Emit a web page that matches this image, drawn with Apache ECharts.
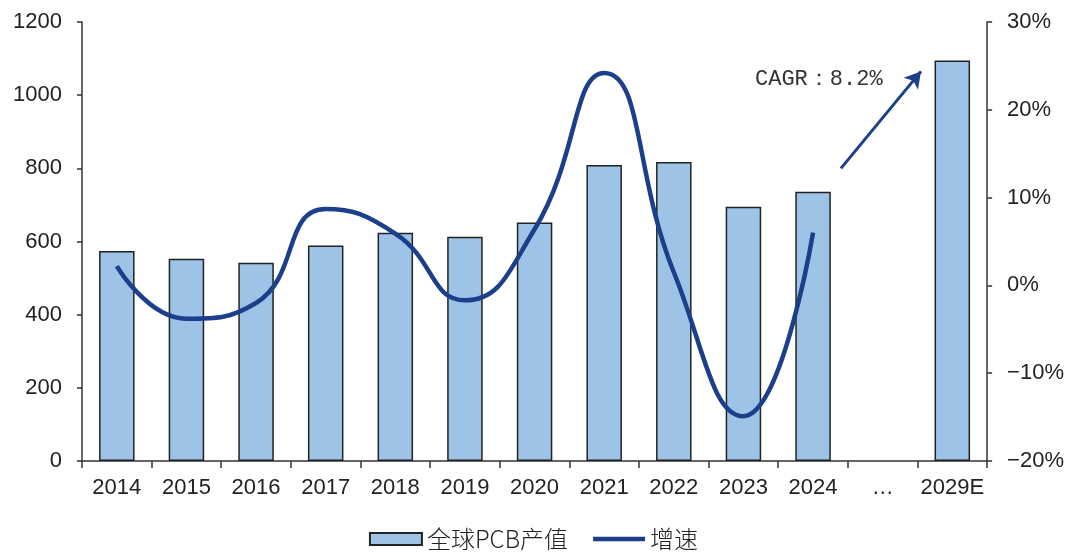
<!DOCTYPE html>
<html>
<head>
<meta charset="utf-8">
<script src="https://cdn.jsdelivr.net/npm/echarts@6/dist/echarts.min.js"></script>
<style>
  html, body { margin: 0; padding: 0; background: #fff; }
  #chart { width: 1067px; height: 558px; }
</style>
</head>
<body>
<div id="chart"></div>
<script>
// Global PCB output (bars, left axis) and year-on-year growth (line, right axis)
const categories = ['2014', '2015', '2016', '2017', '2018', '2019', '2020', '2021', '2022', '2023', '2024', '…', '2029E'];
const pcbOutput = [574, 553, 542, 589, 624, 613, 652, 809, 817, 695, 736, null, 1095];
const growthPct = [2.2, -3.8, -2.0, 8.7, 5.9, -1.7, 6.4, 24.2, 1.5, -14.9, 6.0, null, null];
const leftTicks = { min: 0, max: 1200, interval: 200 };
const rightTicks = { min: -20, max: 30, interval: 10 };
// CAGR arrow, in (category position, left-axis value) units
const cagrArrowFrom = [10.4, 800];
const cagrArrowTo = [11.55, 1065];
const cagrText = 'CAGR：8.2%';

const axisColor = '#333';
const labelStyle = { color: '#222', fontSize: 22, fontFamily: 'Liberation Sans, Arial, sans-serif' };
const navy = '#1B3F8A';

const chart = echarts.init(document.getElementById('chart'), null, { renderer: 'canvas' });

chart.setOption({
  animation: false,
  backgroundColor: '#fff',
  grid: { left: 82, right: 77, top: 22, bottom: 97 },
  legend: {
    bottom: 2,
    left: 'center',
    itemGap: 25,
    itemWidth: 52,
    itemHeight: 12,
    textStyle: { color: '#222', fontSize: 24, fontFamily: 'Noto Sans CJK SC', fontWeight: 300 },
    data: [
      { name: '全球PCB产值', icon: 'rect' },
      { name: '增速', icon: 'path://M0,0H57V5H0Z' }
    ]
  },
  xAxis: [
    {
      type: 'category',
      data: categories,
      boundaryGap: true,
      axisLine: { lineStyle: { color: axisColor, width: 1.5 } },
      axisTick: { show: true, interval: 0, length: 7, inside: false, lineStyle: { color: axisColor, width: 1.5 } },
      axisLabel: Object.assign({ margin: 16, interval: 0, hideOverlap: false }, labelStyle),
      splitLine: { show: false }
    },
    {
      // hidden continuous axis, same span as the category slots, for the arrow
      type: 'value',
      min: -0.5,
      max: categories.length - 0.5,
      show: false,
      position: 'bottom'
    }
  ],
  yAxis: [
    {
      type: 'value',
      min: leftTicks.min,
      max: leftTicks.max,
      interval: leftTicks.interval,
      axisLine: { show: true, onZero: false, lineStyle: { color: axisColor, width: 1.5 } },
      axisTick: { show: true, length: 5, lineStyle: { color: axisColor, width: 1.5 } },
      axisLabel: Object.assign({ margin: 20, formatter: v => String(v) }, labelStyle),
      splitLine: { show: false }
    },
    {
      type: 'value',
      min: rightTicks.min,
      max: rightTicks.max,
      interval: rightTicks.interval,
      position: 'right',
      axisLine: { show: true, onZero: false, lineStyle: { color: axisColor, width: 1.5 } },
      axisTick: { show: true, length: 5, lineStyle: { color: axisColor, width: 1.5 } },
      axisLabel: Object.assign({
        margin: 20,
        formatter: v => (v < 0 ? '\u2212' + Math.abs(v) : v) + '%'
      }, labelStyle),
      splitLine: { show: false }
    }
  ],
  series: [
    {
      name: '全球PCB产值',
      type: 'bar',
      xAxisIndex: 0,
      yAxisIndex: 0,
      data: pcbOutput,
      barWidth: '51%',
      itemStyle: { color: '#9DC3E6', borderColor: '#222', borderWidth: 1.5 }
    },
    {
      name: '增速',
      type: 'line',
      xAxisIndex: 0,
      yAxisIndex: 1,
      data: growthPct,
      smooth: 0.5,
      symbol: 'none',
      connectNulls: false,
      lineStyle: { color: navy, width: 4.5 },
      itemStyle: { color: navy },
      z: 3
    },
    {
      name: 'cagr',
      type: 'line',
      xAxisIndex: 1,
      yAxisIndex: 0,
      data: [],
      silent: true,
      markLine: {
        silent: true,
        symbol: ['none', 'arrow'],
        symbolSize: [14, 16],
        label: { show: false },
        lineStyle: { color: navy, width: 3, type: 'solid' },
        data: [[{ coord: cagrArrowFrom }, { coord: cagrArrowTo }]]
      }
    }
  ],
  graphic: [
    {
      type: 'text',
      left: 755,
      top: 68,
      style: {
        text: cagrText,
        fill: '#333',
        font: '22px "Liberation Mono", "DejaVu Sans Mono", monospace'
      }
    }
  ]
});
</script>
</body>
</html>
